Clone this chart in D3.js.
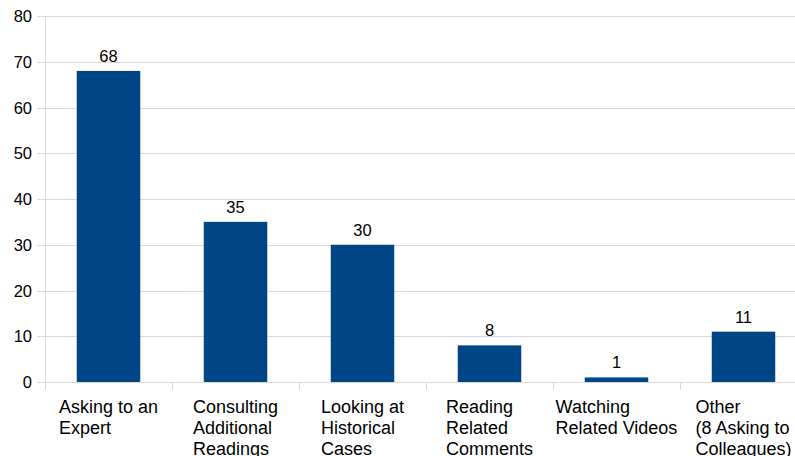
<!DOCTYPE html>
<html>
<head>
<meta charset="utf-8">
<script src="https://cdn.jsdelivr.net/npm/d3@7"></script>
<style>
  html, body { margin: 0; padding: 0; background: #fff; }
  svg { display: block; font-family: "Liberation Sans", Arial, sans-serif; }
</style>
</head>
<body>
<svg></svg>
<script>
const width = 795;
const height = 456;

const categories = [
  ["Asking to an", "Expert"],
  ["Consulting", "Additional", "Readings"],
  ["Looking at", "Historical", "Cases"],
  ["Reading", "Related", "Comments"],
  ["Watching", "Related Videos"],
  ["Other", "(8 Asking to", "Colleagues)"]
];
const values = [68, 35, 30, 8, 1, 11];
const yTicks = [0, 10, 20, 30, 40, 50, 60, 70, 80];

const svg = d3.select("svg").attr("width", width).attr("height", height);

const plotLeft = 45, plotRight = 807, plotTop = 16, plotBottom = 382;

const x = d3.scaleBand()
  .domain(d3.range(values.length))
  .range([plotLeft, plotRight])
  .paddingInner(0.5)
  .paddingOuter(0.25);

const y = d3.scaleLinear().domain([0, 80]).range([plotBottom, plotTop]);

// grid lines
svg.append("g")
  .selectAll("line")
  .data(yTicks)
  .join("line")
  .attr("x1", plotLeft - 8)
  .attr("x2", width)
  .attr("y1", d => Math.round(y(d)) + 0.5)
  .attr("y2", d => Math.round(y(d)) + 0.5)
  .attr("stroke", "#dadada")
  .attr("stroke-width", 1);

// y axis line
svg.append("line")
  .attr("x1", plotLeft + 0.5).attr("x2", plotLeft + 0.5)
  .attr("y1", plotTop).attr("y2", plotBottom + 8)
  .attr("stroke", "#dadada");

// category separators
const step = x.step();
svg.append("g")
  .selectAll("line")
  .data(d3.range(values.length + 1))
  .join("line")
  .attr("x1", i => Math.round(plotLeft + i * step) + 0.5)
  .attr("x2", i => Math.round(plotLeft + i * step) + 0.5)
  .attr("y1", plotBottom)
  .attr("y2", plotBottom + 8)
  .attr("stroke", "#dadada");

// y tick labels
svg.append("g")
  .selectAll("text")
  .data(yTicks)
  .join("text")
  .attr("x", 32)
  .attr("y", d => y(d) + 6)
  .attr("text-anchor", "end")
  .attr("font-size", 16.5)
  .attr("fill", "#000")
  .text(d => d);

// bars
svg.append("g")
  .selectAll("rect")
  .data(values)
  .join("rect")
  .attr("x", (d, i) => x(i))
  .attr("y", d => y(d))
  .attr("width", x.bandwidth())
  .attr("height", d => plotBottom - y(d))
  .attr("fill", "#004586");

// value labels
svg.append("g")
  .selectAll("text")
  .data(values)
  .join("text")
  .attr("x", (d, i) => x(i) + x.bandwidth() / 2)
  .attr("y", d => y(d) - 9)
  .attr("text-anchor", "middle")
  .attr("font-size", 16.5)
  .attr("fill", "#000")
  .text(d => d);

// category labels: block centred in band, lines left aligned
const catG = svg.append("g");
categories.forEach((lines, i) => {
  const t = catG.append("text")
    .attr("font-size", 18)
    .attr("fill", "#000");
  lines.forEach((line, j) => {
    t.append("tspan")
      .attr("y", 413 + j * 21)
      .text(line);
  });
  const w = d3.max(t.selectAll("tspan").nodes(), n => n.getComputedTextLength());
  const cx = plotLeft + (i + 0.5) * step;
  t.selectAll("tspan").attr("x", cx - w / 2);
});
</script>
</body>
</html>
